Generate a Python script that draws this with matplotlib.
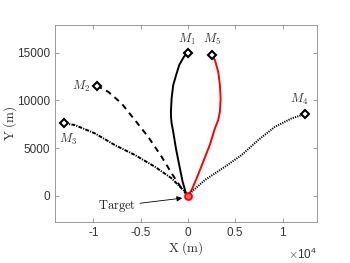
import matplotlib
matplotlib.use("Agg")
import matplotlib.pyplot as plt

plt.rcParams["mathtext.fontset"] = "cm"

# trajectories (m)
m1_x = [0, -423, -920, -1300, -1554, -1723, -1797, -1790, -1723, -1554, -1268, -920, -560, -211, 0]
m1_y = [15000, 14570, 13700, 12470, 11600, 10210, 8800, 8300, 7600, 6710, 4970, 3220, 1470, 250, 0]

m5_x = [2505, 2854, 3200, 3382, 3456, 3382, 3200, 2854, 2325, 1617, 920, 391, 0]
m5_y = [14745, 14220, 12995, 11600, 10210, 8800, 7935, 7063, 5359, 3563, 1823, 597, 0]

m2_x = [-9650, -8425, -7010, -5600, -4200, -2780, -1720, -670, 0]
m2_y = [11530, 10900, 9680, 7930, 6180, 4090, 2350, 775, 0]

m3_x = [-13080, -11950, -9830, -7720, -5600, -3490, -1720, -500, 0]
m3_y = [7590, 7410, 6540, 5310, 4270, 3040, 1820, 600, 0]

m4_x = [12370, 10960, 9200, 7430, 5680, 3910, 1800, 210, 0]
m4_y = [8560, 8110, 7230, 5840, 4270, 3040, 1650, 250, 0]

labels = ["$M_1$", "$M_2$", "$M_3$", "$M_4$", "$M_5$"]
label_pos = [(-140, 16400), (-11260, 11500), (-12700, 5900), (11730, 10100), (2500, 16400)]

xticks = [-10000, -5000, 0, 5000, 10000]
xticklabels = ["-1", "-0.5", "0", "0.5", "1"]
yticks = [0, 5000, 10000, 15000]

fig = plt.figure(figsize=(3.5, 2.63), dpi=100)
ax = fig.add_axes([0.157, 0.156, 0.749, 0.749])

ax.plot(m1_x, m1_y, "k-", lw=1.4)
ax.plot(m5_x, m5_y, "r-", lw=1.4)
ax.plot(m2_x, m2_y, "k--", lw=1.4, dashes=(3, 2.5))
ax.plot(m3_x, m3_y, "k-.", lw=1.4, dashes=(2, 0.6, 0.6, 0.6))
ax.plot(m4_x, m4_y, "k:", lw=1.4, dashes=(0.6, 0.6))

starts = [(m1_x[0], m1_y[0]), (m2_x[0], m2_y[0]), (m3_x[0], m3_y[0]),
          (m4_x[0], m4_y[0]), (m5_x[0], m5_y[0])]
for (sx, sy), lab, (lx, ly) in zip(starts, labels, label_pos):
    ax.plot(sx, sy, "D", mfc="white", mec="k", mew=1.5, ms=4)
    ax.text(lx, ly, lab, fontsize=9, ha="center", va="center", color="#333333")

ax.plot(0, 0, "o", color="red", ms=5, mfc="#ff6060", mew=1.3)
ax.annotate(r"$\mathrm{Target}$", xy=(-600, -250), xytext=(-5500, -1080),
            fontsize=9, ha="right", va="center", color="#222222",
            arrowprops=dict(arrowstyle="-|>", lw=0.6, color="k",
                            mutation_scale=8, shrinkA=1, shrinkB=0))

ax.set_xlim(-14050, 13650)
ax.set_ylim(-2750, 17900)
ax.set_xticks(xticks)
ax.set_xticklabels(xticklabels)
ax.set_yticks(yticks)
ax.tick_params(direction="in", top=True, right=True, length=3, width=0.6,
               colors="#888888", labelcolor="#333333", labelsize=8.5)
for lab in ax.get_xticklabels() + ax.get_yticklabels():
    lab.set_family("Liberation Sans")
for s in ax.spines.values():
    s.set_color("#999999")
    s.set_linewidth(0.7)

ax.set_xlabel(r"$\mathrm{X\ (m)}$", fontsize=9.5, color="#333333", va="center")
ax.set_ylabel(r"$\mathrm{Y\ (m)}$", fontsize=9.5, color="#333333", va="center")
ax.xaxis.set_label_coords(0.5, -0.132)
ax.yaxis.set_label_coords(-0.172, 0.5)
ax.text(1.0, -0.165, r"$\times\mathregular{10^4}$", transform=ax.transAxes,
        ha="right", va="center", fontsize=8.5, color="#333333",
        family="Liberation Sans")

fig.savefig("out.png", dpi=100)
